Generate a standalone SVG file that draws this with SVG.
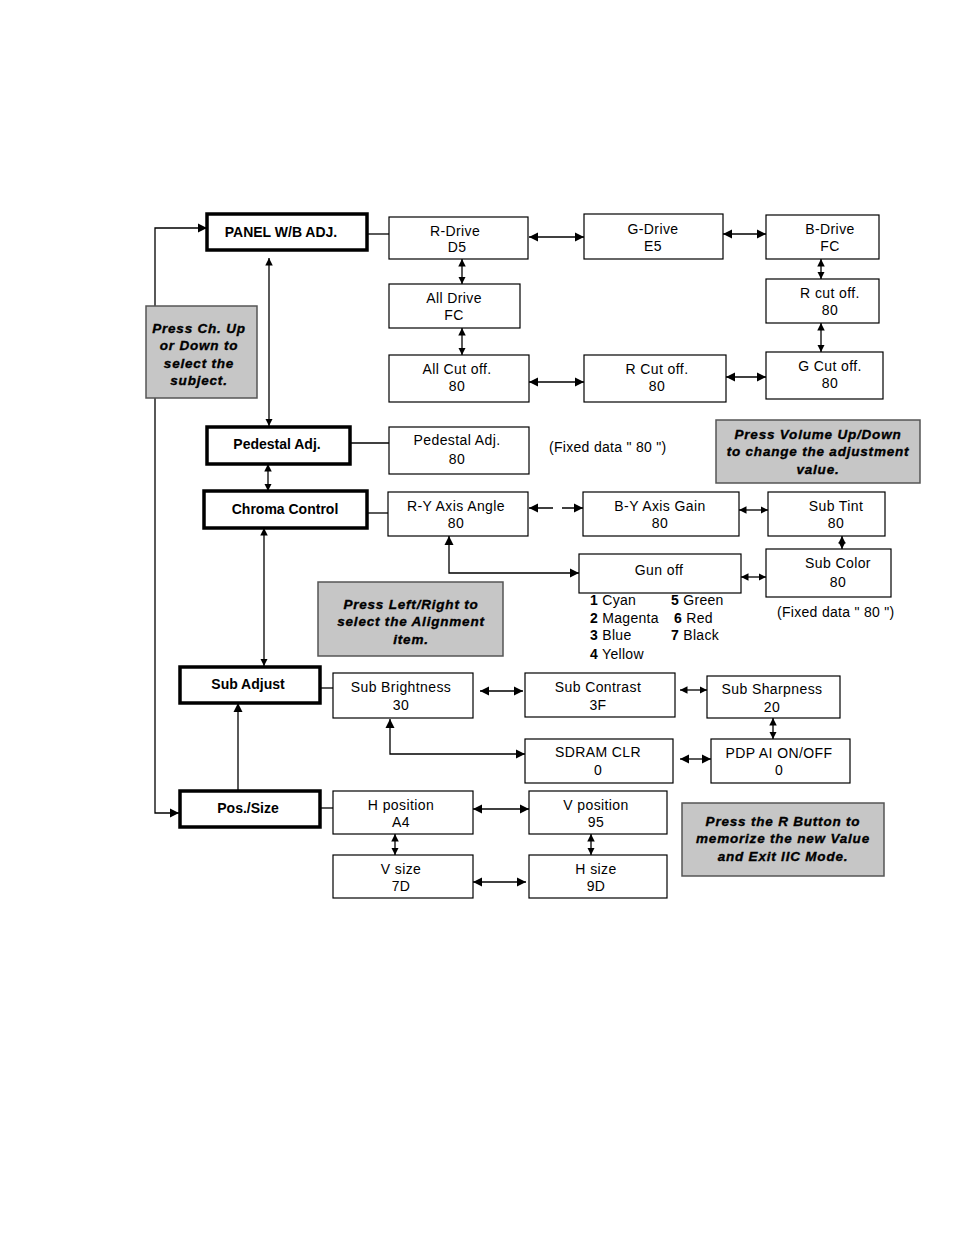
<svg xmlns="http://www.w3.org/2000/svg" width="954" height="1235" viewBox="0 0 954 1235">
<style>
.main rect{fill:#fff;stroke:#000;stroke-width:3.5}
.box rect{fill:#fff;stroke:#000;stroke-width:1.2}
.note rect{fill:#c6c6c6;stroke:#555;stroke-width:1.5}
text{font-family:"Liberation Sans",Arial,sans-serif;fill:#000}
.main text{font-size:14px;font-weight:bold;text-anchor:middle}
.box text{font-size:14px;text-anchor:middle;letter-spacing:0.4px}
.note text{font-size:13.5px;font-weight:bold;font-style:italic;text-anchor:middle;letter-spacing:0.8px;stroke:#000;stroke-width:0.35}
.plain{font-size:14px;letter-spacing:0.3px}
.conn path{fill:none;stroke:#000;stroke-width:1.3}
</style>
<defs>
<marker id="a" viewBox="0 0 10 10" refX="10" refY="5" markerWidth="9" markerHeight="10" markerUnits="userSpaceOnUse" orient="auto-start-reverse"><path d="M0,0 L10,5 L0,10 z" fill="#000"/></marker>
<marker id="s" viewBox="0 0 10 10" refX="10" refY="5" markerWidth="7.5" markerHeight="8.5" markerUnits="userSpaceOnUse" orient="auto-start-reverse"><path d="M0,0 L10,5 L0,10 z" fill="#000"/></marker>
</defs>
<rect width="954" height="1235" fill="#fff"/>

<g class="conn" id="connectors">
<path d="M179,813 H155 V228 H207" marker-start="url(#a)" marker-end="url(#a)"/>
<path d="M367,234 H389"/>
<path d="M529,237 H584" marker-start="url(#a)" marker-end="url(#a)"/>
<path d="M723,234 H766" marker-start="url(#a)" marker-end="url(#a)"/>
<path d="M462,259 V284" marker-start="url(#s)" marker-end="url(#s)"/>
<path d="M462,328 V355" marker-start="url(#s)" marker-end="url(#s)"/>
<path d="M821,259 V279" marker-start="url(#s)" marker-end="url(#s)"/>
<path d="M821,323 V352" marker-start="url(#s)" marker-end="url(#s)"/>
<path d="M529,382 H584" marker-start="url(#a)" marker-end="url(#a)"/>
<path d="M726,377 H766" marker-start="url(#a)" marker-end="url(#a)"/>
<path d="M269,258 V426" marker-start="url(#s)" marker-end="url(#s)"/>
<path d="M350,443 H389"/>
<path d="M268,464 V491" marker-start="url(#s)" marker-end="url(#s)"/>
<path d="M367,513 H388"/>
<path d="M529,508 H583" stroke-dasharray="24 9 22" marker-start="url(#a)" marker-end="url(#a)"/>
<path d="M739,510 H768" marker-start="url(#s)" marker-end="url(#s)"/>
<path d="M842,536 V549" marker-start="url(#s)" marker-end="url(#s)"/>
<path d="M579,573 H449 V536" marker-start="url(#a)" marker-end="url(#a)"/>
<path d="M741,577 H766" marker-start="url(#s)" marker-end="url(#s)"/>
<path d="M264,528 V666" marker-start="url(#s)" marker-end="url(#s)"/>
<path d="M320,688 H333"/>
<path d="M480,691 H523" marker-start="url(#a)" marker-end="url(#a)"/>
<path d="M680,690 H707" marker-start="url(#s)" marker-end="url(#s)"/>
<path d="M773,718 V739" marker-start="url(#s)" marker-end="url(#s)"/>
<path d="M525,754 H390 V719" marker-start="url(#a)" marker-end="url(#a)"/>
<path d="M680,759 H711" marker-start="url(#a)" marker-end="url(#a)"/>
<path d="M238,790 V703" marker-end="url(#a)"/>
<path d="M320,808 H333"/>
<path d="M473,809 H529" marker-start="url(#a)" marker-end="url(#a)"/>
<path d="M395,834 V855" marker-start="url(#s)" marker-end="url(#s)"/>
<path d="M591,834 V855" marker-start="url(#s)" marker-end="url(#s)"/>
<path d="M473,882 H526" marker-start="url(#a)" marker-end="url(#a)"/>
</g>

<g class="main" id="panel-wb"><rect x="207" y="214" width="160" height="36"/><text x="281" y="237">PANEL W/B ADJ.</text></g>
<g class="main" id="pedestal"><rect x="207" y="427" width="143" height="37"/><text x="277" y="449">Pedestal Adj.</text></g>
<g class="main" id="chroma"><rect x="204" y="491" width="163" height="37"/><text x="285" y="514">Chroma Control</text></g>
<g class="main" id="sub-adjust"><rect x="180" y="667" width="140" height="36"/><text x="248" y="689">Sub Adjust</text></g>
<g class="main" id="pos-size"><rect x="180" y="791" width="140" height="36"/><text x="248" y="813">Pos./Size</text></g>

<g class="box" id="r-drive"><rect x="389" y="217" width="139" height="42"/><text x="455" y="236">R-Drive</text><text x="457" y="252">D5</text></g>
<g class="box" id="g-drive"><rect x="584" y="214" width="139" height="45"/><text x="653" y="234">G-Drive</text><text x="653" y="251">E5</text></g>
<g class="box" id="b-drive"><rect x="766" y="215" width="113" height="44"/><text x="830" y="234">B-Drive</text><text x="830" y="251">FC</text></g>
<g class="box" id="all-drive"><rect x="389" y="284" width="131" height="44"/><text x="454" y="303">All Drive</text><text x="454" y="320">FC</text></g>
<g class="box" id="r-cut-off-b"><rect x="766" y="279" width="113" height="44"/><text x="830" y="298">R cut off.</text><text x="830" y="315">80</text></g>
<g class="box" id="all-cut-off"><rect x="389" y="355" width="140" height="47"/><text x="457" y="374">All Cut off.</text><text x="457" y="391">80</text></g>
<g class="box" id="r-cut-off"><rect x="584" y="355" width="142" height="47"/><text x="657" y="374">R Cut off.</text><text x="657" y="391">80</text></g>
<g class="box" id="g-cut-off"><rect x="766" y="352" width="117" height="47"/><text x="830" y="371">G Cut off.</text><text x="830" y="388">80</text></g>
<g class="box" id="pedestal-adj"><rect x="389" y="427" width="140" height="47"/><text x="457" y="445">Pedestal Adj.</text><text x="457" y="464">80</text></g>
<g class="box" id="ry-axis"><rect x="388" y="492" width="140" height="44"/><text x="456" y="511">R-Y Axis Angle</text><text x="456" y="528">80</text></g>
<g class="box" id="by-axis"><rect x="583" y="492" width="156" height="44"/><text x="660" y="511">B-Y Axis Gain</text><text x="660" y="528">80</text></g>
<g class="box" id="sub-tint"><rect x="768" y="492" width="117" height="44"/><text x="836" y="511">Sub Tint</text><text x="836" y="528">80</text></g>
<g class="box" id="gun-off"><rect x="579" y="554" width="162" height="39"/><text x="659" y="575">Gun off</text></g>
<g class="box" id="sub-color"><rect x="766" y="549" width="125" height="48"/><text x="838" y="568">Sub Color</text><text x="838" y="587">80</text></g>
<g class="box" id="sub-brightness"><rect x="333" y="673" width="140" height="45"/><text x="401" y="692">Sub Brightness</text><text x="401" y="710">30</text></g>
<g class="box" id="sub-contrast"><rect x="525" y="673" width="150" height="44"/><text x="598" y="692">Sub Contrast</text><text x="598" y="710">3F</text></g>
<g class="box" id="sub-sharpness"><rect x="707" y="676" width="133" height="42"/><text x="772" y="694">Sub Sharpness</text><text x="772" y="712">20</text></g>
<g class="box" id="sdram-clr"><rect x="525" y="739" width="148" height="44"/><text x="598" y="757">SDRAM CLR</text><text x="598" y="775">0</text></g>
<g class="box" id="pdp-ai"><rect x="711" y="739" width="139" height="44"/><text x="779" y="758">PDP AI ON/OFF</text><text x="779" y="775">0</text></g>
<g class="box" id="h-position"><rect x="333" y="791" width="140" height="43"/><text x="401" y="810">H position</text><text x="401" y="827">A4</text></g>
<g class="box" id="v-position"><rect x="529" y="791" width="138" height="43"/><text x="596" y="810">V position</text><text x="596" y="827">95</text></g>
<g class="box" id="v-size"><rect x="333" y="855" width="140" height="43"/><text x="401" y="874">V size</text><text x="401" y="891">7D</text></g>
<g class="box" id="h-size"><rect x="529" y="855" width="138" height="43"/><text x="596" y="874">H size</text><text x="596" y="891">9D</text></g>

<g class="note" id="note-ch"><rect x="146" y="306" width="111" height="92"/><text x="199" y="333">Press Ch. Up</text><text x="199" y="350">or Down to</text><text x="199" y="368">select the</text><text x="199" y="385">subject.</text></g>
<g class="note" id="note-lr"><rect x="318" y="582" width="185" height="74"/><text x="411" y="609">Press Left/Right to</text><text x="411" y="626">select the Alignment</text><text x="411" y="644">item.</text></g>
<g class="note" id="note-vol"><rect x="716" y="420" width="204" height="63"/><text x="818" y="439">Press Volume Up/Down</text><text x="818" y="456">to change the adjustment</text><text x="818" y="474">value.</text></g>
<g class="note" id="note-r"><rect x="682" y="803" width="202" height="73"/><text x="783" y="826">Press the R Button to</text><text x="783" y="843">memorize the new Value</text><text x="783" y="861">and Exit IIC Mode.</text></g>

<g id="labels">
<text class="plain" x="549" y="452">(Fixed data " 80 ")</text>
<text class="plain" x="777" y="617">(Fixed data " 80 ")</text>
<text class="plain" x="590" y="605"><tspan font-weight="bold">1</tspan> Cyan</text>
<text class="plain" x="590" y="623"><tspan font-weight="bold">2</tspan> Magenta</text>
<text class="plain" x="590" y="640"><tspan font-weight="bold">3</tspan> Blue</text>
<text class="plain" x="590" y="659"><tspan font-weight="bold">4</tspan> Yellow</text>
<text class="plain" x="671" y="605"><tspan font-weight="bold">5</tspan> Green</text>
<text class="plain" x="674" y="623"><tspan font-weight="bold">6</tspan> Red</text>
<text class="plain" x="671" y="640"><tspan font-weight="bold">7</tspan> Black</text>
</g>
</svg>
